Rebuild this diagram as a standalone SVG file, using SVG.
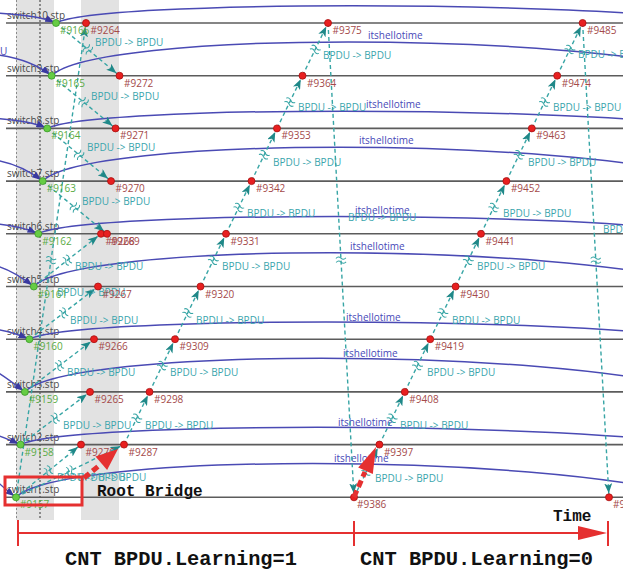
<svg xmlns="http://www.w3.org/2000/svg" width="623" height="572" viewBox="0 0 623 572">
<defs>
<style>
.band{fill:#e2e2e2}
.ll{stroke:#5c5c5c;stroke-width:1.6}
.sw{font-family:"Open Sans","Liberation Sans",sans-serif;font-size:10px;fill:#4a4a4a}
.ev text{font-family:"Open Sans","Liberation Sans",sans-serif;font-size:10px}
.g circle{fill:#66cc44;stroke:#3a9a2a;stroke-width:0.8}
.g text{fill:#5aab45}
.r circle{fill:#e82020;stroke:#a81010;stroke-width:0.8}
.r text{fill:#a44a4a}
.msg{fill:none;stroke:#37a5a5;stroke-width:1.4;stroke-dasharray:4 3;marker-end:url(#ta)}
.hello{fill:none;stroke:#4a4ab4;stroke-width:1.5}
.in{marker-end:url(#ba)}
.bl{font-family:"Open Sans","Liberation Sans",sans-serif;font-size:10px;fill:#3aa5ad}
.hl{font-family:"Open Sans","Liberation Sans",sans-serif;font-size:10px;fill:#4848b8}
.brk{fill:none;stroke:#37a5a5;stroke-width:1}
.big{font-family:"Liberation Mono",monospace;font-weight:bold;fill:#111}
.ann{stroke:#e53030;fill:none}
.annf{fill:#e53030}
</style>
<marker id="ta" markerWidth="10" markerHeight="8" refX="14" refY="4" orient="auto" markerUnits="userSpaceOnUse">
<path d="M0,0 L10,4 L0,8 L2.5,4 z" fill="#1f8888"/>
</marker>
<marker id="ba" markerWidth="9" markerHeight="7" refX="11" refY="3.5" orient="auto" markerUnits="userSpaceOnUse">
<path d="M0,0 L9,3.5 L0,7 z" fill="#3a3aa0"/>
</marker>
<path id="brk" d="M-2,-5 q2.5,2.5 0,5 t0,5 M2,-5 q2.5,2.5 0,5 t0,5"/>
</defs>

<!-- time bands and guide lines -->
<g id="bands">
<rect class="band" x="16" y="0" width="38" height="520"/>
<rect class="band" x="81" y="0" width="38" height="520"/>
<line x1="16.5" y1="0" x2="16.5" y2="520" stroke="#8a8a8a" stroke-width="1" stroke-dasharray="2 2"/>
<line x1="40" y1="0" x2="40" y2="520" stroke="#333" stroke-width="1" stroke-dasharray="2 2"/>
</g>

<!-- switch lifelines -->
<g id="switch10"><line class="ll" x1="6" y1="23" x2="623" y2="23"/><text class="sw" x="7" y="19">switch10.stp</text></g>
<g id="switch9"><line class="ll" x1="6" y1="75.7" x2="623" y2="75.7"/><text class="sw" x="7" y="71.7">switch9.stp</text></g>
<g id="switch8"><line class="ll" x1="6" y1="128.4" x2="623" y2="128.4"/><text class="sw" x="7" y="124.4">switch8.stp</text></g>
<g id="switch7"><line class="ll" x1="6" y1="181.1" x2="623" y2="181.1"/><text class="sw" x="7" y="177.1">switch7.stp</text></g>
<g id="switch6"><line class="ll" x1="6" y1="233.8" x2="623" y2="233.8"/><text class="sw" x="7" y="229.8">switch6.stp</text></g>
<g id="switch5"><line class="ll" x1="6" y1="286.5" x2="623" y2="286.5"/><text class="sw" x="7" y="282.5">switch5.stp</text></g>
<g id="switch4"><line class="ll" x1="6" y1="339.2" x2="623" y2="339.2"/><text class="sw" x="7" y="335.2">switch4.stp</text></g>
<g id="switch3"><line class="ll" x1="6" y1="391.9" x2="623" y2="391.9"/><text class="sw" x="7" y="387.9">switch3.stp</text></g>
<g id="switch2"><line class="ll" x1="6" y1="444.6" x2="623" y2="444.6"/><text class="sw" x="7" y="440.6">switch2.stp</text></g>
<g id="switch1"><line class="ll" x1="6" y1="497.3" x2="623" y2="497.3"/><text class="sw" x="7" y="493.3">switch1.stp</text></g>

<!-- connectors -->
<g id="connectors">
<!-- hello timers -->
<g id="hello">
<path class="hello" d="M56,23 C100,0 576,0 736,23"/>
<path class="hello" d="M51.6,75.7 C95.6,30.7 571.6,30.7 731.6,75.7"/>
<path class="hello" d="M47.2,128.4 C91.2,105.4 567.2,105.4 727.2,128.4"/>
<path class="hello" d="M42.7,181.1 C86.7,136.1 562.7,136.1 722.7,181.1"/>
<path class="hello" d="M38.3,233.8 C82.3,210.8 558.3,210.8 718.3,233.8"/>
<path class="hello" d="M33.8,286.5 C77.8,241.5 553.8,241.5 713.8,286.5"/>
<path class="hello" d="M29.4,339.2 C73.4,316.2 549.4,316.2 709.4,339.2"/>
<path class="hello" d="M24.9,391.9 C68.9,346.9 544.9,346.9 704.9,391.9"/>
<path class="hello" d="M20.5,444.6 C64.5,421.6 540.5,421.6 700.5,444.6"/>
<path class="hello" d="M16,497.3 C60,452.3 536,452.3 696,497.3"/>
<path class="hello in" d="M-5,13 Q38,15 56,23"/>
<path class="hello in" d="M-5,54.7 Q29.6,58.7 51.6,75.7"/>
<path class="hello in" d="M-5,118.4 Q29.2,120.4 47.2,128.4"/>
<path class="hello in" d="M-5,160.1 Q20.7,164.1 42.7,181.1"/>
<path class="hello in" d="M-5,223.8 Q20.3,225.8 38.3,233.8"/>
<path class="hello in" d="M-5,265.5 Q11.8,269.5 33.8,286.5"/>
<path class="hello in" d="M-5,329.2 Q11.4,331.2 29.4,339.2"/>
<path class="hello in" d="M-5,370.9 Q2.9,374.9 24.9,391.9"/>
<path class="hello in" d="M-5,434.6 Q2.5,436.6 20.5,444.6"/>
<path class="hello in" d="M-5,478 Q-4,482 16,497.3"/>
<text class="hl" x="0" y="55">U</text>
<text class="hl" x="368" y="39">itshellotime</text>
<text class="hl" x="366" y="108">itshellotime</text>
<text class="hl" x="359" y="144">itshellotime</text>
<text class="hl" x="355" y="214">itshellotime</text>
<text class="hl" x="350" y="250">itshellotime</text>
<text class="hl" x="346" y="321">itshellotime</text>
<text class="hl" x="343" y="357">itshellotime</text>
<text class="hl" x="338" y="426">itshellotime</text>
<text class="hl" x="334" y="462">itshellotime</text>
</g>

<!-- BPDU messages -->
<g id="bpdu">
<line class="msg" x1="56" y1="23" x2="119.5" y2="75.7"/>
<line class="msg" x1="51.6" y1="75.7" x2="115.5" y2="128.4"/>
<line class="msg" x1="47.2" y1="128.4" x2="111" y2="181.1"/>
<line class="msg" x1="42.7" y1="181.1" x2="107" y2="233.8"/>
<line class="msg" x1="33.8" y1="286.5" x2="101" y2="233.8"/>
<line class="msg" x1="29.4" y1="339.2" x2="98" y2="286.5"/>
<line class="msg" x1="24.9" y1="391.9" x2="94" y2="339.2"/>
<line class="msg" x1="20.5" y1="444.6" x2="90" y2="391.9"/>
<line class="msg" x1="16" y1="497.3" x2="81" y2="444.6"/>
<line class="msg" x1="16" y1="497.3" x2="124" y2="444.6"/>
<line class="msg" x1="16" y1="497.3" x2="86" y2="23"/>
<line class="msg" x1="124" y1="444.6" x2="149.5" y2="391.9"/>
<line class="msg" x1="149.5" y1="391.9" x2="175" y2="339.2"/>
<line class="msg" x1="175" y1="339.2" x2="200.5" y2="286.5"/>
<line class="msg" x1="200.5" y1="286.5" x2="226" y2="233.8"/>
<line class="msg" x1="226" y1="233.8" x2="251.5" y2="181.1"/>
<line class="msg" x1="251.5" y1="181.1" x2="277" y2="128.4"/>
<line class="msg" x1="277" y1="128.4" x2="302.5" y2="75.7"/>
<line class="msg" x1="302.5" y1="75.7" x2="328" y2="23"/>
<line class="msg" x1="328" y1="23" x2="354" y2="497.3"/>
<line class="msg" x1="354" y1="497.3" x2="379.4" y2="444.6"/>
<line class="msg" x1="379.4" y1="444.6" x2="404.8" y2="391.9"/>
<line class="msg" x1="404.8" y1="391.9" x2="430.2" y2="339.2"/>
<line class="msg" x1="430.2" y1="339.2" x2="455.6" y2="286.5"/>
<line class="msg" x1="455.6" y1="286.5" x2="481" y2="233.8"/>
<line class="msg" x1="481" y1="233.8" x2="506.4" y2="181.1"/>
<line class="msg" x1="506.4" y1="181.1" x2="531.8" y2="128.4"/>
<line class="msg" x1="531.8" y1="128.4" x2="557.2" y2="75.7"/>
<line class="msg" x1="557.2" y1="75.7" x2="582.6" y2="23"/>
<line class="msg" x1="582.6" y1="23" x2="609" y2="497.3"/>

<g class="brk">
<use href="#brk" transform="translate(87.8,49.4) rotate(39.7)"/>
<use href="#brk" transform="translate(83.6,102.1) rotate(39.5)"/>
<use href="#brk" transform="translate(79.1,154.8) rotate(39.6)"/>
<use href="#brk" transform="translate(74.9,207.5) rotate(39.3)"/>
<use href="#brk" transform="translate(67.4,260.2) rotate(-38.1)"/>
<use href="#brk" transform="translate(63.7,312.9) rotate(-37.5)"/>
<use href="#brk" transform="translate(59.5,365.6) rotate(-37.3)"/>
<use href="#brk" transform="translate(55.3,418.3) rotate(-37.2)"/>
<use href="#brk" transform="translate(48.5,471) rotate(-39)"/>
<use href="#brk" transform="translate(70,471) rotate(-26)"/>
<use href="#brk" transform="translate(51,260.2) rotate(-81.6)"/>
<use href="#brk" transform="translate(136.8,418.3) rotate(-64.2)"/>
<use href="#brk" transform="translate(162.3,365.6) rotate(-64.2)"/>
<use href="#brk" transform="translate(187.8,312.9) rotate(-64.2)"/>
<use href="#brk" transform="translate(213.3,260.2) rotate(-64.2)"/>
<use href="#brk" transform="translate(238.8,207.5) rotate(-64.2)"/>
<use href="#brk" transform="translate(264.3,154.8) rotate(-64.2)"/>
<use href="#brk" transform="translate(289.8,102.1) rotate(-64.2)"/>
<use href="#brk" transform="translate(315.3,49.4) rotate(-64.2)"/>
<use href="#brk" transform="translate(341,260.2) rotate(86.9)"/>
<use href="#brk" transform="translate(366.7,471) rotate(-64.3)"/>
<use href="#brk" transform="translate(392.1,418.3) rotate(-64.3)"/>
<use href="#brk" transform="translate(417.5,365.6) rotate(-64.3)"/>
<use href="#brk" transform="translate(442.9,312.9) rotate(-64.3)"/>
<use href="#brk" transform="translate(468.3,260.2) rotate(-64.3)"/>
<use href="#brk" transform="translate(493.7,207.5) rotate(-64.3)"/>
<use href="#brk" transform="translate(519.1,154.8) rotate(-64.3)"/>
<use href="#brk" transform="translate(544.5,102.1) rotate(-64.3)"/>
<use href="#brk" transform="translate(569.9,49.4) rotate(-64.3)"/>
<use href="#brk" transform="translate(595.8,260.2) rotate(86.8)"/>
</g>

<text class="bl" x="95" y="45.6">BPDU -&gt; BPDU</text>
<text class="bl" x="91" y="99.6">BPDU -&gt; BPDU</text>
<text class="bl" x="87" y="150.6">BPDU -&gt; BPDU</text>
<text class="bl" x="82" y="204.6">BPDU -&gt; BPDU</text>
<text class="bl" x="75" y="269.6">BPDU -&gt; BPDU</text>
<text class="bl" x="57" y="295.6">BPDU -&gt; BPDU</text>
<text class="bl" x="70" y="323.6">BPDU -&gt; BPDU</text>
<text class="bl" x="67" y="375.6">BPDU -&gt; BPDU</text>
<text class="bl" x="63" y="428.6">BPDU -&gt; BPDU</text>
<text class="bl" x="57" y="481">BPDU -&gt; BPDU</text>
<text class="bl" x="78" y="481">BPDU -&gt; BPDU</text>
<text class="bl" x="145" y="428.6">BPDU -&gt; BPDU</text>
<text class="bl" x="170" y="375.6">BPDU -&gt; BPDU</text>
<text class="bl" x="196" y="323.6">BPDU -&gt; BPDU</text>
<text class="bl" x="222" y="269.6">BPDU -&gt; BPDU</text>
<text class="bl" x="247" y="216.6">BPDU -&gt; BPDU</text>
<text class="bl" x="273" y="165.6">BPDU -&gt; BPDU</text>
<text class="bl" x="298" y="110.6">BPDU -&gt; BPDU</text>
<text class="bl" x="323" y="58.6">BPDU -&gt; BPDU</text>
<text class="bl" x="348" y="220.6">BPDU -&gt; BPDU</text>
<text class="bl" x="375" y="481.6">BPDU -&gt; BPDU</text>
<text class="bl" x="400" y="428.6">BPDU -&gt; BPDU</text>
<text class="bl" x="427" y="375.6">BPDU -&gt; BPDU</text>
<text class="bl" x="452" y="323.6">BPDU -&gt; BPDU</text>
<text class="bl" x="477" y="269.6">BPDU -&gt; BPDU</text>
<text class="bl" x="503" y="216.6">BPDU -&gt; BPDU</text>
<text class="bl" x="528" y="165.6">BPDU -&gt; BPDU</text>
<text class="bl" x="553" y="110.6">BPDU -&gt; BPDU</text>
<text class="bl" x="578" y="57.6">BPDU -&gt; BPDU</text>
<text class="bl" x="603" y="232.6">BPDU -&gt; BPDU</text>
</g>
</g>

<!-- events: hello sends (green) -->
<g id="e9166" class="ev g"><circle cx="56" cy="23" r="3.5"/><text x="60" y="34">#9166</text></g>
<g id="e9165" class="ev g"><circle cx="51.6" cy="75.7" r="3.5"/><text x="55.6" y="86.7">#9165</text></g>
<g id="e9164" class="ev g"><circle cx="47.2" cy="128.4" r="3.5"/><text x="51.2" y="139.4">#9164</text></g>
<g id="e9163" class="ev g"><circle cx="42.7" cy="181.1" r="3.5"/><text x="46.7" y="192.1">#9163</text></g>
<g id="e9162" class="ev g"><circle cx="38.3" cy="233.8" r="3.5"/><text x="42.3" y="244.8">#9162</text></g>
<g id="e9161" class="ev g"><circle cx="33.8" cy="286.5" r="3.5"/><text x="37.8" y="297.5">#9161</text></g>
<g id="e9160" class="ev g"><circle cx="29.4" cy="339.2" r="3.5"/><text x="33.4" y="350.2">#9160</text></g>
<g id="e9159" class="ev g"><circle cx="24.9" cy="391.9" r="3.5"/><text x="28.9" y="402.9">#9159</text></g>
<g id="e9158" class="ev g"><circle cx="20.5" cy="444.6" r="3.5"/><text x="24.5" y="455.6">#9158</text></g>
<g id="e9157" class="ev g"><circle cx="16" cy="497.3" r="3.5"/><text x="20" y="508.3">#9157</text></g>

<!-- events: BPDU arrivals (red) -->
<g id="e9264" class="ev r"><circle cx="86" cy="23" r="3.5"/><text x="90.5" y="34">#9264</text></g>
<g id="e9272" class="ev r"><circle cx="119.5" cy="75.7" r="3.5"/><text x="124" y="86.7">#9272</text></g>
<g id="e9271" class="ev r"><circle cx="115.5" cy="128.4" r="3.5"/><text x="120" y="139.4">#9271</text></g>
<g id="e9270" class="ev r"><circle cx="111" cy="181.1" r="3.5"/><text x="115.5" y="192.1">#9270</text></g>
<g id="e9268" class="ev r"><circle cx="101" cy="233.8" r="3.5"/><text x="105.5" y="244.8">#9268</text></g>
<g id="e9269" class="ev r"><circle cx="107" cy="233.8" r="3.5"/><text x="110.5" y="244.8">#9269</text></g>
<g id="e9267" class="ev r"><circle cx="98" cy="286.5" r="3.5"/><text x="102.5" y="297.5">#9267</text></g>
<g id="e9266" class="ev r"><circle cx="94" cy="339.2" r="3.5"/><text x="98.5" y="350.2">#9266</text></g>
<g id="e9265" class="ev r"><circle cx="90" cy="391.9" r="3.5"/><text x="94.5" y="402.9">#9265</text></g>
<g id="e9276" class="ev r"><circle cx="81" cy="444.6" r="3.5"/><text x="85.5" y="455.6">#9276</text></g>
<g id="e9287" class="ev r"><circle cx="124" cy="444.6" r="3.5"/><text x="128.5" y="455.6">#9287</text></g>
<g id="e9298" class="ev r"><circle cx="149.5" cy="391.9" r="3.5"/><text x="154" y="402.9">#9298</text></g>
<g id="e9309" class="ev r"><circle cx="175" cy="339.2" r="3.5"/><text x="179.5" y="350.2">#9309</text></g>
<g id="e9320" class="ev r"><circle cx="200.5" cy="286.5" r="3.5"/><text x="205" y="297.5">#9320</text></g>
<g id="e9331" class="ev r"><circle cx="226" cy="233.8" r="3.5"/><text x="230.5" y="244.8">#9331</text></g>
<g id="e9342" class="ev r"><circle cx="251.5" cy="181.1" r="3.5"/><text x="256" y="192.1">#9342</text></g>
<g id="e9353" class="ev r"><circle cx="277" cy="128.4" r="3.5"/><text x="281.5" y="139.4">#9353</text></g>
<g id="e9364" class="ev r"><circle cx="302.5" cy="75.7" r="3.5"/><text x="307" y="86.7">#9364</text></g>
<g id="e9375" class="ev r"><circle cx="328" cy="23" r="3.5"/><text x="332.5" y="34">#9375</text></g>
<g id="e9386" class="ev r"><circle cx="354" cy="497.3" r="3.5"/><text x="357" y="508.3">#9386</text></g>
<g id="e9397" class="ev r"><circle cx="379.4" cy="444.6" r="3.5"/><text x="383.9" y="455.6">#9397</text></g>
<g id="e9408" class="ev r"><circle cx="404.8" cy="391.9" r="3.5"/><text x="409.3" y="402.9">#9408</text></g>
<g id="e9419" class="ev r"><circle cx="430.2" cy="339.2" r="3.5"/><text x="434.7" y="350.2">#9419</text></g>
<g id="e9430" class="ev r"><circle cx="455.6" cy="286.5" r="3.5"/><text x="460.1" y="297.5">#9430</text></g>
<g id="e9441" class="ev r"><circle cx="481" cy="233.8" r="3.5"/><text x="485.5" y="244.8">#9441</text></g>
<g id="e9452" class="ev r"><circle cx="506.4" cy="181.1" r="3.5"/><text x="510.9" y="192.1">#9452</text></g>
<g id="e9463" class="ev r"><circle cx="531.8" cy="128.4" r="3.5"/><text x="536.3" y="139.4">#9463</text></g>
<g id="e9474" class="ev r"><circle cx="557.2" cy="75.7" r="3.5"/><text x="561.7" y="86.7">#9474</text></g>
<g id="e9485" class="ev r"><circle cx="582.6" cy="23" r="3.5"/><text x="587.1" y="34">#9485</text></g>
<g id="e9496" class="ev r"><circle cx="609" cy="497.3" r="3.5"/><text x="613" y="508.3">#9496</text></g>

<!-- annotations -->
<g id="annotations">
<rect class="ann" x="5" y="477" width="77" height="28" stroke-width="3"/>
<text class="big" x="97" y="496" font-size="16">Root Bridge</text>
<line class="ann" x1="84" y1="478" x2="101" y2="464" stroke-width="5" stroke-dasharray="7 4"/>
<path class="annf" d="M118,449 L107.1,470.1 L95.5,456.5 z"/>
<line class="ann" x1="354" y1="497" x2="365" y2="472" stroke-width="5" stroke-dasharray="7 4"/>
<path class="annf" d="M376,447 L372.8,474 L358.2,467.6 z"/>
<line class="ann" x1="18" y1="533" x2="590" y2="533" stroke-width="2"/>
<line class="ann" x1="18" y1="520" x2="18" y2="546" stroke-width="2"/>
<line class="ann" x1="354" y1="521" x2="354" y2="546" stroke-width="2"/>
<line class="ann" x1="608" y1="521" x2="608" y2="546" stroke-width="2"/>
<path class="annf" d="M607,533 L578,526 L578,540 z"/>
<text class="big" x="553" y="521" font-size="16">Time</text>
<text class="big" x="65" y="565" font-size="20" textLength="232" lengthAdjust="spacingAndGlyphs">CNT BPDU.Learning=1</text>
<text class="big" x="360" y="565" font-size="20" textLength="233" lengthAdjust="spacingAndGlyphs">CNT BPDU.Learning=0</text>
</g>
</svg>
